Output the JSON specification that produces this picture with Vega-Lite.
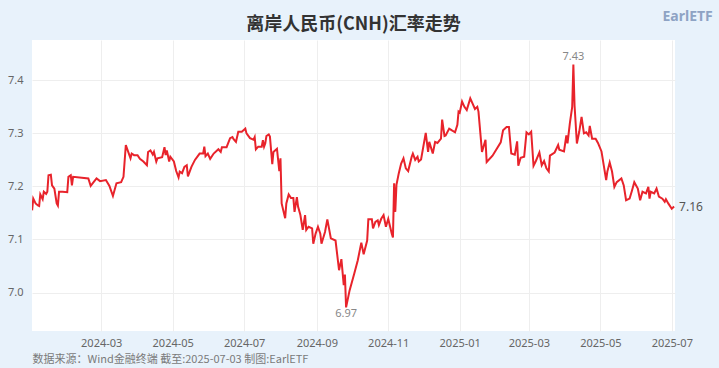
{
  "$schema": "https://vega.github.io/schema/vega-lite/v6.json",
  "autosize": "none",
  "width": 643,
  "height": 291,
  "padding": {"left": 32, "top": 40, "right": 44, "bottom": 37},
  "background": "#e8f2fb",
  "view": {"fill": "white", "stroke": null},
  "title": {
    "text": "离岸人民币(CNH)汇率走势",
    "font": "Noto Sans CJK SC",
    "fontSize": 18,
    "fontWeight": "bold",
    "color": "#333333",
    "anchor": "middle",
    "offset": -25
  },
  "config": {
    "font": "Noto Sans",
    "axis": {"labelFont": "Noto Sans", "titleFont": "Noto Sans CJK SC"}
  },
  "datasets": {
    "cnh": [
      {"date": "2024-01-02", "value": 7.155},
      {"date": "2024-01-03", "value": 7.177},
      {"date": "2024-01-05", "value": 7.168},
      {"date": "2024-01-07", "value": 7.164},
      {"date": "2024-01-08", "value": 7.163},
      {"date": "2024-01-09", "value": 7.185},
      {"date": "2024-01-11", "value": 7.176},
      {"date": "2024-01-12", "value": 7.19},
      {"date": "2024-01-14", "value": 7.186},
      {"date": "2024-01-15", "value": 7.19},
      {"date": "2024-01-16", "value": 7.221},
      {"date": "2024-01-18", "value": 7.222},
      {"date": "2024-01-19", "value": 7.202},
      {"date": "2024-01-21", "value": 7.196},
      {"date": "2024-01-23", "value": 7.168},
      {"date": "2024-01-24", "value": 7.164},
      {"date": "2024-01-25", "value": 7.19},
      {"date": "2024-01-28", "value": 7.19},
      {"date": "2024-02-01", "value": 7.189},
      {"date": "2024-02-02", "value": 7.218},
      {"date": "2024-02-04", "value": 7.221},
      {"date": "2024-02-05", "value": 7.202},
      {"date": "2024-02-06", "value": 7.218},
      {"date": "2024-02-19", "value": 7.215},
      {"date": "2024-02-21", "value": 7.201},
      {"date": "2024-02-26", "value": 7.215},
      {"date": "2024-02-29", "value": 7.21},
      {"date": "2024-03-05", "value": 7.212},
      {"date": "2024-03-08", "value": 7.201},
      {"date": "2024-03-11", "value": 7.182},
      {"date": "2024-03-14", "value": 7.206},
      {"date": "2024-03-18", "value": 7.208},
      {"date": "2024-03-20", "value": 7.218},
      {"date": "2024-03-22", "value": 7.278},
      {"date": "2024-03-26", "value": 7.253},
      {"date": "2024-03-27", "value": 7.262},
      {"date": "2024-03-29", "value": 7.259},
      {"date": "2024-04-01", "value": 7.259},
      {"date": "2024-04-03", "value": 7.252},
      {"date": "2024-04-06", "value": 7.247},
      {"date": "2024-04-09", "value": 7.24},
      {"date": "2024-04-10", "value": 7.265},
      {"date": "2024-04-12", "value": 7.268},
      {"date": "2024-04-14", "value": 7.26},
      {"date": "2024-04-15", "value": 7.265},
      {"date": "2024-04-17", "value": 7.247},
      {"date": "2024-04-18", "value": 7.253},
      {"date": "2024-04-22", "value": 7.255},
      {"date": "2024-04-24", "value": 7.274},
      {"date": "2024-04-25", "value": 7.259},
      {"date": "2024-04-26", "value": 7.268},
      {"date": "2024-04-28", "value": 7.247},
      {"date": "2024-04-29", "value": 7.256},
      {"date": "2024-05-02", "value": 7.247},
      {"date": "2024-05-04", "value": 7.229},
      {"date": "2024-05-06", "value": 7.217},
      {"date": "2024-05-07", "value": 7.228},
      {"date": "2024-05-09", "value": 7.225},
      {"date": "2024-05-11", "value": 7.237},
      {"date": "2024-05-13", "value": 7.24},
      {"date": "2024-05-14", "value": 7.219},
      {"date": "2024-05-17", "value": 7.237},
      {"date": "2024-05-20", "value": 7.25},
      {"date": "2024-05-24", "value": 7.262},
      {"date": "2024-05-27", "value": 7.262},
      {"date": "2024-05-28", "value": 7.275},
      {"date": "2024-05-29", "value": 7.257},
      {"date": "2024-05-31", "value": 7.262},
      {"date": "2024-06-02", "value": 7.252},
      {"date": "2024-06-05", "value": 7.262},
      {"date": "2024-06-09", "value": 7.27},
      {"date": "2024-06-11", "value": 7.265},
      {"date": "2024-06-12", "value": 7.274},
      {"date": "2024-06-16", "value": 7.274},
      {"date": "2024-06-19", "value": 7.291},
      {"date": "2024-06-21", "value": 7.293},
      {"date": "2024-06-22", "value": 7.289},
      {"date": "2024-06-24", "value": 7.284},
      {"date": "2024-06-26", "value": 7.303},
      {"date": "2024-06-29", "value": 7.303},
      {"date": "2024-07-02", "value": 7.309},
      {"date": "2024-07-03", "value": 7.3},
      {"date": "2024-07-06", "value": 7.291},
      {"date": "2024-07-09", "value": 7.288},
      {"date": "2024-07-10", "value": 7.293},
      {"date": "2024-07-11", "value": 7.27},
      {"date": "2024-07-13", "value": 7.275},
      {"date": "2024-07-16", "value": 7.275},
      {"date": "2024-07-17", "value": 7.287},
      {"date": "2024-07-18", "value": 7.275},
      {"date": "2024-07-19", "value": 7.281},
      {"date": "2024-07-20", "value": 7.295},
      {"date": "2024-07-22", "value": 7.298},
      {"date": "2024-07-23", "value": 7.294},
      {"date": "2024-07-25", "value": 7.242},
      {"date": "2024-07-26", "value": 7.265},
      {"date": "2024-07-29", "value": 7.271},
      {"date": "2024-07-31", "value": 7.229},
      {"date": "2024-08-01", "value": 7.253},
      {"date": "2024-08-02", "value": 7.168},
      {"date": "2024-08-05", "value": 7.14},
      {"date": "2024-08-06", "value": 7.168},
      {"date": "2024-08-08", "value": 7.185},
      {"date": "2024-08-10", "value": 7.178},
      {"date": "2024-08-12", "value": 7.178},
      {"date": "2024-08-13", "value": 7.152},
      {"date": "2024-08-15", "value": 7.18},
      {"date": "2024-08-16", "value": 7.162},
      {"date": "2024-08-18", "value": 7.146},
      {"date": "2024-08-20", "value": 7.118},
      {"date": "2024-08-22", "value": 7.146},
      {"date": "2024-08-23", "value": 7.118},
      {"date": "2024-08-25", "value": 7.124},
      {"date": "2024-08-28", "value": 7.121},
      {"date": "2024-08-29", "value": 7.092},
      {"date": "2024-08-31", "value": 7.111},
      {"date": "2024-09-02", "value": 7.124},
      {"date": "2024-09-04", "value": 7.111},
      {"date": "2024-09-05", "value": 7.092},
      {"date": "2024-09-08", "value": 7.114},
      {"date": "2024-09-10", "value": 7.138},
      {"date": "2024-09-13", "value": 7.102},
      {"date": "2024-09-17", "value": 7.098},
      {"date": "2024-09-20", "value": 7.042},
      {"date": "2024-09-22", "value": 7.063},
      {"date": "2024-09-24", "value": 7.014},
      {"date": "2024-09-25", "value": 7.034},
      {"date": "2024-09-26", "value": 6.972},
      {"date": "2024-09-29", "value": 7.004},
      {"date": "2024-10-03", "value": 7.036},
      {"date": "2024-10-06", "value": 7.061},
      {"date": "2024-10-09", "value": 7.094},
      {"date": "2024-10-11", "value": 7.072},
      {"date": "2024-10-14", "value": 7.098},
      {"date": "2024-10-15", "value": 7.138},
      {"date": "2024-10-18", "value": 7.138},
      {"date": "2024-10-19", "value": 7.121},
      {"date": "2024-10-21", "value": 7.133},
      {"date": "2024-10-23", "value": 7.136},
      {"date": "2024-10-24", "value": 7.127},
      {"date": "2024-10-26", "value": 7.139},
      {"date": "2024-10-28", "value": 7.146},
      {"date": "2024-10-30", "value": 7.124},
      {"date": "2024-11-01", "value": 7.139},
      {"date": "2024-11-04", "value": 7.111},
      {"date": "2024-11-05", "value": 7.104},
      {"date": "2024-11-06", "value": 7.206},
      {"date": "2024-11-07", "value": 7.152},
      {"date": "2024-11-08", "value": 7.203},
      {"date": "2024-11-10", "value": 7.225},
      {"date": "2024-11-12", "value": 7.243},
      {"date": "2024-11-14", "value": 7.253},
      {"date": "2024-11-16", "value": 7.234},
      {"date": "2024-11-18", "value": 7.229},
      {"date": "2024-11-21", "value": 7.256},
      {"date": "2024-11-22", "value": 7.262},
      {"date": "2024-11-24", "value": 7.25},
      {"date": "2024-11-26", "value": 7.256},
      {"date": "2024-11-27", "value": 7.247},
      {"date": "2024-11-29", "value": 7.251},
      {"date": "2024-12-03", "value": 7.301},
      {"date": "2024-12-05", "value": 7.265},
      {"date": "2024-12-06", "value": 7.284},
      {"date": "2024-12-09", "value": 7.262},
      {"date": "2024-12-11", "value": 7.284},
      {"date": "2024-12-13", "value": 7.282},
      {"date": "2024-12-16", "value": 7.29},
      {"date": "2024-12-17", "value": 7.326},
      {"date": "2024-12-19", "value": 7.295},
      {"date": "2024-12-20", "value": 7.296},
      {"date": "2024-12-23", "value": 7.309},
      {"date": "2024-12-25", "value": 7.306},
      {"date": "2024-12-28", "value": 7.302},
      {"date": "2024-12-30", "value": 7.316},
      {"date": "2024-12-31", "value": 7.341},
      {"date": "2025-01-01", "value": 7.339},
      {"date": "2025-01-03", "value": 7.36},
      {"date": "2025-01-05", "value": 7.35},
      {"date": "2025-01-07", "value": 7.344},
      {"date": "2025-01-10", "value": 7.366},
      {"date": "2025-01-12", "value": 7.356},
      {"date": "2025-01-14", "value": 7.346},
      {"date": "2025-01-16", "value": 7.35},
      {"date": "2025-01-17", "value": 7.341},
      {"date": "2025-01-20", "value": 7.265},
      {"date": "2025-01-23", "value": 7.288},
      {"date": "2025-01-24", "value": 7.246},
      {"date": "2025-01-29", "value": 7.258},
      {"date": "2025-02-05", "value": 7.283},
      {"date": "2025-02-07", "value": 7.306},
      {"date": "2025-02-10", "value": 7.312},
      {"date": "2025-02-12", "value": 7.312},
      {"date": "2025-02-14", "value": 7.262},
      {"date": "2025-02-17", "value": 7.26},
      {"date": "2025-02-19", "value": 7.285},
      {"date": "2025-02-20", "value": 7.239},
      {"date": "2025-02-22", "value": 7.254},
      {"date": "2025-02-25", "value": 7.256},
      {"date": "2025-02-27", "value": 7.302},
      {"date": "2025-03-01", "value": 7.298},
      {"date": "2025-03-03", "value": 7.303},
      {"date": "2025-03-05", "value": 7.239},
      {"date": "2025-03-07", "value": 7.248},
      {"date": "2025-03-10", "value": 7.264},
      {"date": "2025-03-12", "value": 7.24},
      {"date": "2025-03-14", "value": 7.248},
      {"date": "2025-03-16", "value": 7.234},
      {"date": "2025-03-18", "value": 7.228},
      {"date": "2025-03-19", "value": 7.258},
      {"date": "2025-03-23", "value": 7.264},
      {"date": "2025-03-26", "value": 7.278},
      {"date": "2025-03-27", "value": 7.269},
      {"date": "2025-03-31", "value": 7.266},
      {"date": "2025-04-02", "value": 7.296},
      {"date": "2025-04-03", "value": 7.281},
      {"date": "2025-04-05", "value": 7.319},
      {"date": "2025-04-07", "value": 7.35},
      {"date": "2025-04-08", "value": 7.43},
      {"date": "2025-04-09", "value": 7.353},
      {"date": "2025-04-11", "value": 7.281},
      {"date": "2025-04-13", "value": 7.303},
      {"date": "2025-04-15", "value": 7.331},
      {"date": "2025-04-17", "value": 7.3},
      {"date": "2025-04-19", "value": 7.302},
      {"date": "2025-04-21", "value": 7.296},
      {"date": "2025-04-22", "value": 7.314},
      {"date": "2025-04-24", "value": 7.29},
      {"date": "2025-04-27", "value": 7.29},
      {"date": "2025-04-29", "value": 7.282},
      {"date": "2025-05-02", "value": 7.266},
      {"date": "2025-05-06", "value": 7.212},
      {"date": "2025-05-07", "value": 7.228},
      {"date": "2025-05-09", "value": 7.245},
      {"date": "2025-05-11", "value": 7.228},
      {"date": "2025-05-13", "value": 7.199},
      {"date": "2025-05-15", "value": 7.208},
      {"date": "2025-05-19", "value": 7.215},
      {"date": "2025-05-21", "value": 7.202},
      {"date": "2025-05-23", "value": 7.174},
      {"date": "2025-05-26", "value": 7.177},
      {"date": "2025-05-28", "value": 7.192},
      {"date": "2025-05-30", "value": 7.208},
      {"date": "2025-06-02", "value": 7.196},
      {"date": "2025-06-04", "value": 7.174},
      {"date": "2025-06-06", "value": 7.19},
      {"date": "2025-06-09", "value": 7.187},
      {"date": "2025-06-11", "value": 7.199},
      {"date": "2025-06-12", "value": 7.177},
      {"date": "2025-06-13", "value": 7.19},
      {"date": "2025-06-16", "value": 7.187},
      {"date": "2025-06-18", "value": 7.196},
      {"date": "2025-06-20", "value": 7.181},
      {"date": "2025-06-23", "value": 7.177},
      {"date": "2025-06-25", "value": 7.171},
      {"date": "2025-06-26", "value": 7.176},
      {"date": "2025-06-28", "value": 7.168},
      {"date": "2025-07-01", "value": 7.158},
      {"date": "2025-07-03", "value": 7.162}
    ]
  },
  "layer": [
    {
      "data": {"name": "cnh", "format": {"parse": {"date": "utc:'%Y-%m-%d'"}}},
      "mark": {"type": "line", "color": "#e8232b", "strokeWidth": 2, "clip": true},
      "encoding": {
        "x": {
          "field": "date",
          "type": "temporal",
          "scale": {
            "type": "utc",
            "domain": [
              {"year": 2024, "month": 1, "date": 1, "hours": 22, "utc": true},
              {"year": 2025, "month": 7, "date": 3, "hours": 18, "utc": true}
            ]
          },
          "axis": {
            "values": [
              {"year": 2024, "month": 3, "date": 1, "utc": true},
              {"year": 2024, "month": 5, "date": 1, "utc": true},
              {"year": 2024, "month": 7, "date": 1, "utc": true},
              {"year": 2024, "month": 9, "date": 1, "utc": true},
              {"year": 2024, "month": 11, "date": 1, "utc": true},
              {"year": 2025, "month": 1, "date": 1, "utc": true},
              {"year": 2025, "month": 3, "date": 1, "utc": true},
              {"year": 2025, "month": 5, "date": 1, "utc": true},
              {"year": 2025, "month": 7, "date": 1, "utc": true}
            ],
            "format": "%Y-%m",
            "labelColor": "#666666",
            "labelFontSize": 11,
            "labelPadding": 6,
            "labelFlush": false,
            "ticks": false,
            "domain": false,
            "grid": true,
            "gridColor": "#eeeeee",
            "gridWidth": 1,
            "title": "数据来源：Wind金融终端 截至:2025-07-03 制图:EarlETF",
            "titleFontSize": 11,
            "titleFontWeight": "normal",
            "titleColor": "#7a7a7a",
            "titleAnchor": "start",
            "titleAlign": "left",
            "titleBaseline": "middle",
            "titleX": 0,
            "titleY": 28
          }
        },
        "y": {
          "field": "value",
          "type": "quantitative",
          "scale": {"domain": [6.9275, 7.476], "nice": false, "zero": false},
          "axis": {
            "values": [7.0, 7.1, 7.2, 7.3, 7.4],
            "format": ".1f",
            "labelColor": "#666666",
            "labelFontSize": 11,
            "labelPadding": 9,
            "ticks": false,
            "domain": false,
            "grid": true,
            "gridColor": "#eeeeee",
            "title": "EarlETF",
            "titleAngle": 0,
            "titleFont": "Noto Sans",
            "titleFontSize": 14,
            "titleFontWeight": "bold",
            "titleColor": "#8ea3c4",
            "titleAlign": "left",
            "titleBaseline": "middle",
            "titleX": 630,
            "titleY": -24
          }
        }
      }
    },
    {
      "data": {"values": [{"date": "2025-04-08", "value": 7.43, "label": "7.43"}], "format": {"parse": {"date": "utc:'%Y-%m-%d'"}}},
      "mark": {"type": "text", "baseline": "bottom", "align": "center", "dy": -2, "fontSize": 11, "color": "#888888"},
      "encoding": {
        "x": {"field": "date", "type": "temporal"},
        "y": {"field": "value", "type": "quantitative"},
        "text": {"field": "label", "type": "nominal"}
      }
    },
    {
      "data": {"values": [{"date": "2024-09-26", "value": 6.972, "label": "6.97"}], "format": {"parse": {"date": "utc:'%Y-%m-%d'"}}},
      "mark": {"type": "text", "baseline": "top", "align": "center", "dy": 1, "fontSize": 11, "color": "#888888"},
      "encoding": {
        "x": {"field": "date", "type": "temporal"},
        "y": {"field": "value", "type": "quantitative"},
        "text": {"field": "label", "type": "nominal"}
      }
    },
    {
      "data": {"values": [{"date": "2025-07-03", "value": 7.162, "label": "7.16"}], "format": {"parse": {"date": "utc:'%Y-%m-%d'"}}},
      "mark": {"type": "text", "baseline": "middle", "align": "left", "dx": 5, "fontSize": 12, "color": "#555555"},
      "encoding": {
        "x": {"field": "date", "type": "temporal"},
        "y": {"field": "value", "type": "quantitative"},
        "text": {"field": "label", "type": "nominal"}
      }
    }
  ]
}
